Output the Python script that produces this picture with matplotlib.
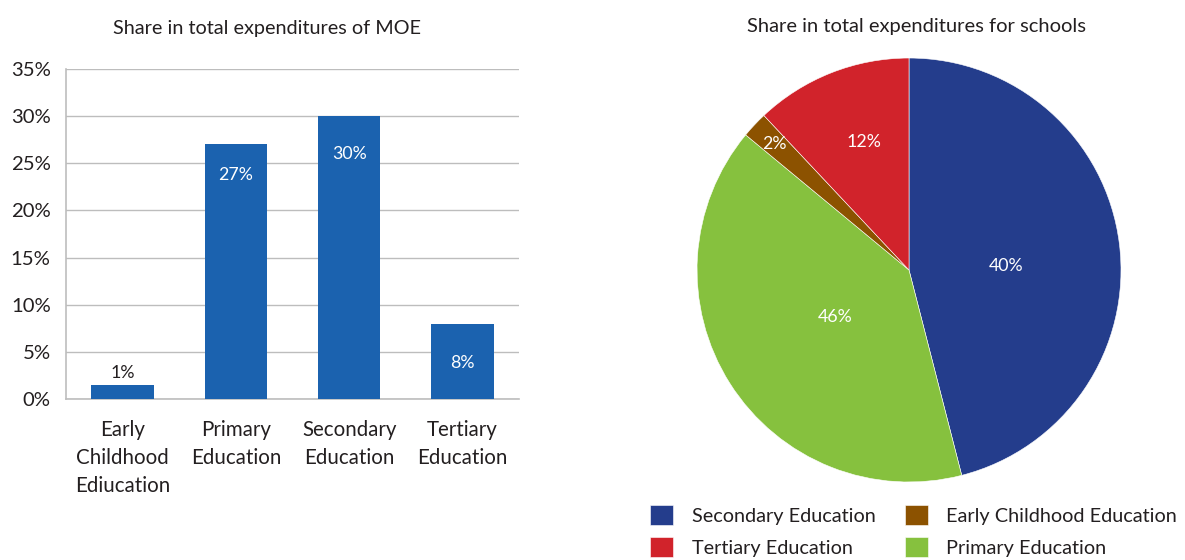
import matplotlib
matplotlib.use('Agg')
import numpy as np
import matplotlib.pyplot as plt

plt.rcParams['font.family'] = ['Lato', 'DejaVu Sans']

# ----------------
# DATA
# ----------------

bar_cats = ['Early\nChildhood\nEdiucation', 'Primary\nEducation',
            'Secondary\nEducation', 'Tertiary\nEducation']
bar_vals = [1.5, 27, 30, 8]
bar_labels = ['1%', '27%', '30%', '8%']
yticks = [0, 5, 10, 15, 20, 25, 30, 35]

pie_cats = ['Secondary Education', 'Primary Education',
            'Early Childhood Education', 'Tertiary Education']
pie_vals = [46, 40, 2, 12]
pie_labels = ['40%', '46%', '2%', '12%']
pie_colors = ['#243D8C', '#86C13E', '#8C5200', '#D1232B']

# ----------------
# FIGURE
# ----------------

fig = plt.figure(figsize=(11.85, 5.6), dpi=100)
text_col = '#231F20'
grid_col = '#BDBDBD'

# bar chart
ax = fig.add_axes([0.0557, 0.2875, 0.3823, 0.5893])
x = range(len(bar_cats))
bars = ax.bar(x, bar_vals, width=0.55, color='#1B62AF', zorder=3)
ax.set_xlim(-0.5, 3.5)
ax.set_ylim(0, 35)
ax.set_yticks(yticks)
ax.set_yticklabels([f'{t}%' for t in yticks], fontsize=14.6, color=text_col)
ax.set_xticks(list(x))
ax.set_xticklabels(bar_cats, fontsize=14.8, color=text_col, linespacing=1.5)
ax.tick_params(length=0)
ax.tick_params(axis='x', pad=15)
ax.tick_params(axis='y', pad=11)
ax.grid(axis='y', color=grid_col, lw=1, zorder=0)
for s in ('top', 'right'):
    ax.spines[s].set_visible(False)
for s in ('left', 'bottom'):
    ax.spines[s].set_color(grid_col)
    ax.spines[s].set_linewidth(1.2)
ax.set_title('Share in total expenditures of MOE', fontsize=14.3, color=text_col,
             pad=25, x=0.444)

# offsets below the bar top (in %) for the value labels
lab_off = [-1.28, 3.2, 4.04, 4.15]
for b, lab, v, off in zip(bars, bar_labels, bar_vals, lab_off):
    cx = b.get_x() + b.get_width() / 2
    col = text_col if off < 0 else 'white'
    ax.text(cx, v - off, lab, ha='center', va='center', fontsize=12.8, color=col)

# pie chart
pax = fig.add_axes([0.5882, 0.1393, 0.3578, 0.7571])
wedges, _ = pax.pie(pie_vals, colors=pie_colors, startangle=90, counterclock=False,
                    wedgeprops=dict(linewidth=0.4, edgecolor='white'))
pax.set_xlim(-1, 1)
pax.set_ylim(-1, 1)
pax.set_aspect('equal')

label_r = [0.457, 0.41, 0.87, 0.64]
label_da = [-4.8, 0, 0, -2]
for w, lab, r, da in zip(wedges, pie_labels, label_r, label_da):
    ang = np.deg2rad((w.theta1 + w.theta2) / 2 + da)
    pax.text(r * np.cos(ang), r * np.sin(ang), lab, ha='center', va='center',
             fontsize=12.8, color='white')

fig.text(0.773, 0.953, 'Share in total expenditures for schools', ha='center',
         va='center', fontsize=14.5, color=text_col)

order = [0, 3, 2, 1]
fig.legend([wedges[i] for i in order], [pie_cats[i] for i in order],
           ncol=2, loc='upper left', bbox_to_anchor=(0.5335, 0.13),
           frameon=False, fontsize=14.3, handlelength=1.16, handleheight=1.16,
           columnspacing=1.45, handletextpad=0.95, labelspacing=0.62,
           labelcolor=text_col)

fig.savefig('out.png', dpi=100)
